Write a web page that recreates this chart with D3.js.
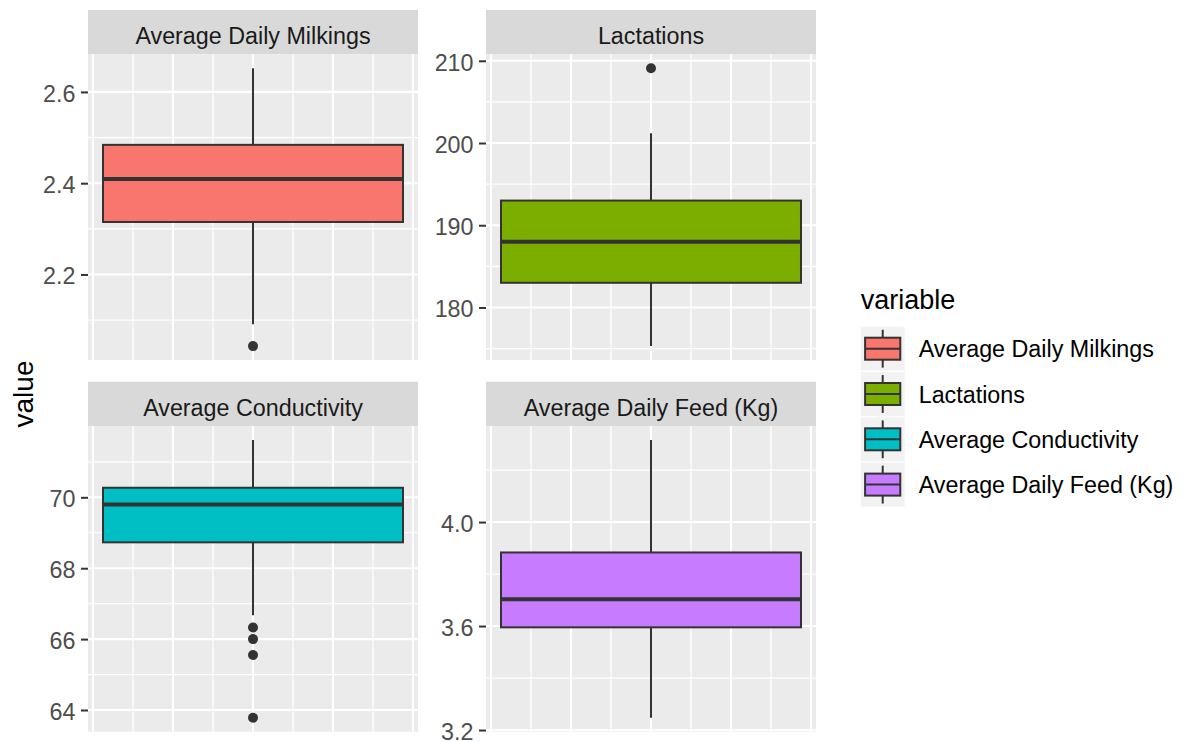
<!DOCTYPE html>
<html>
<head>
<meta charset="utf-8">
<script src="https://cdn.jsdelivr.net/npm/d3@7"></script>
<style>
  html, body { margin: 0; padding: 0; background: #ffffff; }
  svg { display: block; font-family: "Liberation Sans", Arial, sans-serif; }
</style>
</head>
<body>
<svg id="chart" width="1183" height="742"></svg>
<script>
// Box plot summaries, one entry per facet
const variables = ["Average Daily Milkings", "Lactations", "Average Conductivity", "Average Daily Feed (Kg)"];
const lowerWhisker = [2.091, 175.3, 66.67, 3.247];
const q1 = [2.315, 183.0, 68.73, 3.595];
const median = [2.409, 188.0, 69.80, 3.703];
const q3 = [2.484, 193.0, 70.27, 3.883];
const upperWhisker = [2.652, 201.2, 71.62, 4.316];
const outliers = [[2.043], [209.1], [66.33, 66.0, 65.55, 63.78], []];
const yTicks = [[2.2, 2.4, 2.6], [180, 190, 200, 210], [64, 66, 68, 70], [3.2, 3.6, 4.0]];
const yTickLabels = [["2.2", "2.4", "2.6"], ["180", "190", "200", "210"], ["64", "66", "68", "70"], ["3.2", "3.6", "4.0"]];
const fills = ["#F8766D", "#7CAE00", "#00BFC4", "#C77CFF"];

// Facet layout (2 x 2)
const panelW = 330;
const colX = [88, 486];
const stripTop = [10, 381.7];
const stripH = 44.3;
const panelH = 305.7;
const fontSmall = 23.3;

const svg = d3.select("#chart");

// x is a continuous dummy axis centred on 0 with a 0.75-wide box
const boxHalf = 0.375;
const xExp = boxHalf * 1.1;
const xGrid = d3.range(-4, 5).map(k => k / 10);

variables.forEach((v, i) => {
  const col = i % 2, row = Math.floor(i / 2);
  const x0 = colX[col];
  const sTop = stripTop[row];
  const pTop = sTop + stripH;
  const g = svg.append("g");

  // strip
  g.append("rect").attr("x", x0).attr("y", sTop).attr("width", panelW).attr("height", stripH).attr("fill", "#D9D9D9");
  g.append("text").attr("x", x0 + panelW / 2).attr("y", pTop - 10)
    .attr("text-anchor", "middle").attr("font-size", fontSmall).attr("fill", "#1A1A1A").text(v);

  // scales (free y, 5% expansion of the data range)
  const lo = d3.min([lowerWhisker[i], ...outliers[i]]);
  const hi = d3.max([upperWhisker[i], ...outliers[i]]);
  const pad = (hi - lo) * 0.05;
  const y = d3.scaleLinear().domain([lo - pad, hi + pad]).range([pTop + panelH, pTop]);
  const x = d3.scaleLinear().domain([-xExp, xExp]).range([x0, x0 + panelW]);

  // panel background
  g.append("rect").attr("x", x0).attr("y", pTop).attr("width", panelW).attr("height", panelH).attr("fill", "#EBEBEB");

  // grid lines
  const step = yTicks[i][1] - yTicks[i][0];
  const [dLo, dHi] = y.domain();
  const minor = [];
  for (let t = yTicks[i][0] - step / 2; t <= dHi; t += step) if (t >= dLo) minor.push(t);
  g.selectAll(".ymin").data(minor).join("line")
    .attr("x1", x0).attr("x2", x0 + panelW).attr("y1", d => y(d)).attr("y2", d => y(d))
    .attr("stroke", "#FFFFFF").attr("stroke-width", 1.2);
  g.selectAll(".xmin").data(xGrid.filter((d, k) => k % 2 === 1)).join("line")
    .attr("y1", pTop).attr("y2", pTop + panelH).attr("x1", d => x(d)).attr("x2", d => x(d))
    .attr("stroke", "#FFFFFF").attr("stroke-width", 1.2);
  g.selectAll(".ymaj").data(yTicks[i]).join("line")
    .attr("x1", x0).attr("x2", x0 + panelW).attr("y1", d => y(d)).attr("y2", d => y(d))
    .attr("stroke", "#FFFFFF").attr("stroke-width", 2.1);
  g.selectAll(".xmaj").data(xGrid.filter((d, k) => k % 2 === 0)).join("line")
    .attr("y1", pTop).attr("y2", pTop + panelH).attr("x1", d => x(d)).attr("x2", d => x(d))
    .attr("stroke", "#FFFFFF").attr("stroke-width", 2.1);

  // y axis
  const axis = g.append("g").attr("transform", `translate(${x0},0)`)
    .call(d3.axisLeft(y).tickValues(yTicks[i]).tickSize(7).tickPadding(5.5)
      .tickFormat((d, k) => yTickLabels[i][k]));
  axis.select(".domain").remove();
  axis.selectAll(".tick line").attr("stroke", "#333333").attr("stroke-width", 2);
  axis.selectAll(".tick text").attr("fill", "#4D4D4D").attr("font-size", fontSmall)
    .attr("font-family", "'Liberation Sans', Arial, sans-serif").attr("dy", "0.4em");

  // whiskers
  g.append("line").attr("x1", x(0)).attr("x2", x(0)).attr("y1", y(upperWhisker[i])).attr("y2", y(q3[i]))
    .attr("stroke", "#333333").attr("stroke-width", 2);
  g.append("line").attr("x1", x(0)).attr("x2", x(0)).attr("y1", y(q1[i])).attr("y2", y(lowerWhisker[i]))
    .attr("stroke", "#333333").attr("stroke-width", 2);

  // box
  g.append("rect").attr("x", x(-boxHalf)).attr("y", y(q3[i]))
    .attr("width", x(boxHalf) - x(-boxHalf)).attr("height", y(q1[i]) - y(q3[i]))
    .attr("fill", fills[i]).attr("stroke", "#333333").attr("stroke-width", 2);
  g.append("line").attr("x1", x(-boxHalf)).attr("x2", x(boxHalf)).attr("y1", y(median[i])).attr("y2", y(median[i]))
    .attr("stroke", "#333333").attr("stroke-width", 4);

  // outliers
  g.selectAll(".out").data(outliers[i]).join("circle")
    .attr("cx", x(0)).attr("cy", d => y(d)).attr("r", 5).attr("fill", "#333333");
});

// y axis title
svg.append("text").attr("transform", "translate(33,394) rotate(-90)")
  .attr("text-anchor", "middle").attr("font-size", 28).attr("fill", "#000000").text("value");

// legend
const legX = 860.7, legY = 326.7, keyS = 44, keyStep = 45.3;
const leg = svg.append("g");
leg.append("text").attr("x", legX).attr("y", 309.3).attr("font-size", 27).attr("fill", "#000000").text("variable");
variables.forEach((v, i) => {
  const ky = legY + i * keyStep;
  const kg = leg.append("g").attr("transform", `translate(${legX},${ky})`);
  kg.append("rect").attr("width", keyS).attr("height", keyS).attr("fill", "#F2F2F2");
  kg.append("line").attr("x1", keyS / 2).attr("x2", keyS / 2).attr("y1", keyS * 0.07).attr("y2", keyS * 0.93)
    .attr("stroke", "#333333").attr("stroke-width", 2);
  kg.append("rect").attr("x", keyS * 0.1).attr("y", keyS * 0.25).attr("width", keyS * 0.8).attr("height", keyS * 0.5)
    .attr("fill", fills[i]).attr("stroke", "#333333").attr("stroke-width", 2);
  kg.append("line").attr("x1", keyS * 0.1).attr("x2", keyS * 0.9).attr("y1", keyS / 2).attr("y2", keyS / 2)
    .attr("stroke", "#333333").attr("stroke-width", 2);
  leg.append("text").attr("x", 918.7).attr("y", ky + keyS / 2 + 8.5)
    .attr("font-size", fontSmall).attr("fill", "#000000").text(v);
});
</script>
</body>
</html>
